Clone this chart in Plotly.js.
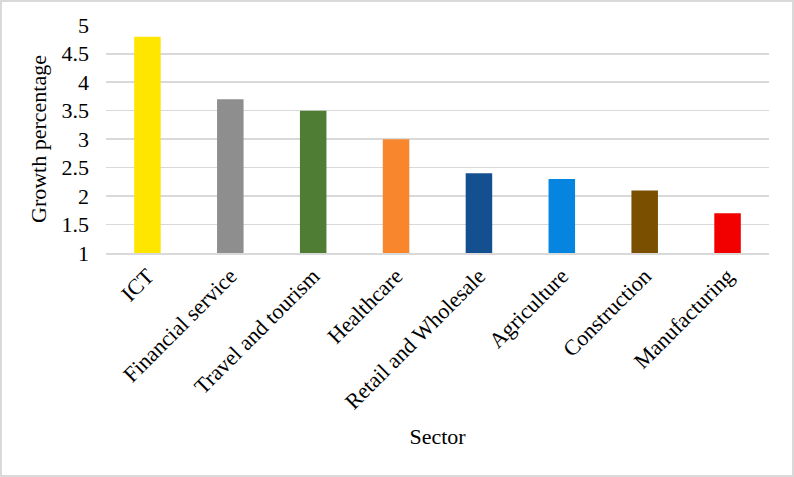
<!DOCTYPE html>
<html>
<head>
<meta charset="utf-8">
<script src="https://cdn.plot.ly/plotly-3.0.1.min.js"></script>
<style>
  body { margin: 0; background: #fff; }
  #wrap { position: relative; width: 794px; height: 477px; }
  #bar-plot { width: 794px; height: 477px; }
  #frame { position: absolute; left: 0; top: 0; width: 794px; height: 477px;
           box-sizing: border-box; border: 2px solid #d9d9d9; pointer-events: none; }
</style>
</head>
<body>
<div id="wrap">
  <div id="bar-plot"></div>
  <div id="frame"></div>
</div>
<script>
// sectors and their growth percentage
let sectors = ["ICT", "Financial service", "Travel and tourism", "Healthcare",
               "Retail and Wholesale", "Agriculture", "Construction", "Manufacturing"];
let growth = [4.8, 3.7, 3.5, 3.0, 2.4, 2.3, 2.1, 1.7];
let barColors = ["#ffe600", "#8e8e8e", "#4f7d33", "#f7862d",
                 "#14508f", "#0584e0", "#7a5000", "#f20000"];
let yTicks = [1, 1.5, 2, 2.5, 3, 3.5, 4, 4.5, 5];

let serif = "'Liberation Serif', 'Times New Roman', serif";

let trace = {
    x: sectors,
    y: growth,
    type: "bar",
    width: 0.32,
    marker: { color: barColors },
    hoverinfo: "none"
};

let layout = {
    width: 794,
    height: 477,
    margin: { l: 106, r: 25, t: 25, b: 224 },
    paper_bgcolor: "#fff",
    plot_bgcolor: "#fff",
    font: { family: serif, size: 22, color: "#000" },
    showlegend: false,
    xaxis: {
        title: { text: "Sector", font: { size: 22 }, standoff: 15 },
        tickangle: -45,
        tickfont: { size: 22 },
        showline: true,
        linecolor: "#d9d9d9",
        linewidth: 1.5,
        ticks: "",
        showgrid: false
    },
    yaxis: {
        title: { text: "Growth percentage", font: { size: 22 }, standoff: 8 },
        range: [1, 5.005],
        tickvals: yTicks,
        ticktext: yTicks.map(String),
        tickfont: { size: 22 },
        ticklabelstandoff: 16,
        showgrid: true,
        gridcolor: "#d9d9d9",
        gridwidth: 1.5,
        zeroline: false,
        showline: false,
        ticks: ""
    }
};

Plotly.newPlot("bar-plot", [trace], layout, { displayModeBar: false, staticPlot: true });
</script>
</body>
</html>
